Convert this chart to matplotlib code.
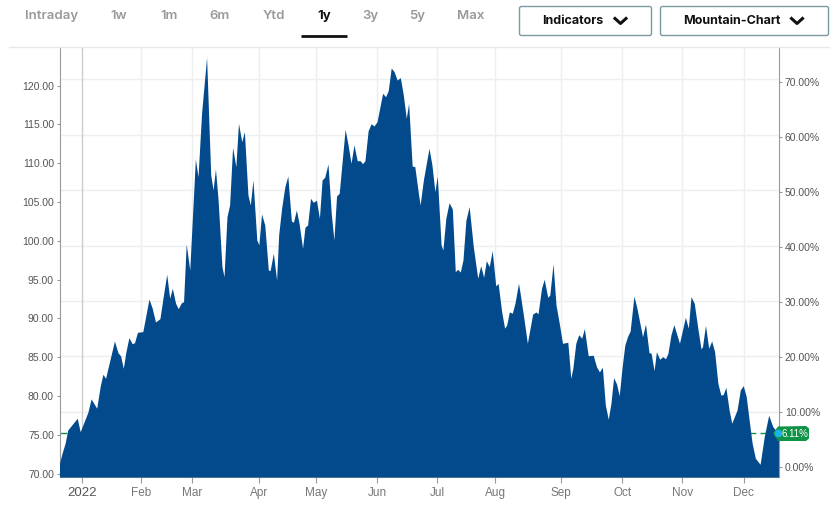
import matplotlib
matplotlib.use("Agg")
import matplotlib.pyplot as plt
from matplotlib.patches import FancyBboxPatch, Polygon

plt.rcParams['font.family'] = ['Liberation Sans', 'DejaVu Sans']

# session number and closing price at the turning points
session = [0, 0.8, 1.9, 2.8, 6.0, 7.0, 9.6, 10.7, 12.6, 13.8, 14.7, 15.6, 18.6, 19.8, 20.7, 21.6,
           22.5, 23.5, 24.6, 25.4, 26.4, 28.2, 30.3, 31.4, 32.5, 34.0, 35.2, 36.3, 37.3, 38.2, 39.3, 40.2,
           41.3, 42.0, 42.9, 44.1, 46.0, 46.9, 48.1, 49.8, 51.2, 52.0, 52.8, 53.7, 55.0, 55.7, 56.7, 57.6,
           58.6, 59.7, 60.6, 61.7, 62.6, 63.8, 64.6, 65.5, 66.8, 67.5, 68.4, 69.5, 70.7, 71.3, 72.4, 73.5,
           74.2, 75.2, 76.3, 77.3, 78.5, 79.2, 80.2, 81.1, 82.3, 83.1, 84.0, 85.0, 85.9, 87.0, 88.0, 88.9,
           89.8, 90.9, 92.0, 92.9, 93.8, 94.7, 96.7, 97.7, 98.7, 99.7, 100.8, 101.8, 102.6, 103.4, 104.5, 105.5,
           106.5, 107.5, 109.4, 110.4, 111.3, 112.3, 113.3, 114.3, 115.4, 116.4, 117.4, 118.2, 119.4, 120.3, 121.5, 122.1,
           123.2, 125.1, 126.1, 127.1, 127.9, 129.2, 129.8, 130.8, 131.9, 133.0, 134.0, 134.8, 135.7, 136.6, 137.6, 138.7,
           140.1, 141.6, 142.6, 143.6, 144.5, 145.5, 146.5, 147.7, 148.5, 149.7, 150.7, 151.4, 152.3, 153.3, 154.2, 155.4,
           155.9, 157.3, 158.4, 160.2, 161.4, 162.0, 163.2, 164.1, 165.3, 166.0, 167.1, 168.1, 169.3, 170.3, 172.1, 173.1,
           173.8, 174.8, 175.8, 176.8, 177.7, 179.0, 180.7, 181.8, 182.8, 183.8, 184.8, 185.8, 186.7, 187.6, 188.6, 189.5,
           190.5, 191.4, 192.3, 193.2, 194.5, 195.5, 197.4, 198.4, 199.6, 200.3, 201.3, 202.1, 203.2, 204.2, 205.2, 206.0,
           207.0, 208.0, 209.9, 211.9, 212.9, 213.8, 214.9, 216.2, 217.2, 217.7, 218.7, 219.8, 220.8, 221.8, 222.9, 223.9,
           224.7, 225.6, 226.7, 227.6, 229.4, 230.5, 231.5, 232.5, 233.7, 234.5, 235.6, 237.2, 238.6, 240.1, 241.5, 243.3,
           243.7]
price = [71.34, 72.54, 73.92, 75.63, 77.14, 75.41, 77.91, 79.63, 78.43, 81.30, 82.81, 82.29, 87.10, 85.59, 85.17, 83.58,
         85.72, 87.53, 86.75, 86.88, 88.22, 88.30, 92.51, 91.31, 89.55, 89.97, 93.03, 95.70, 92.60, 93.89, 91.96, 91.26,
         92.04, 92.16, 99.60, 96.25, 110.55, 108.27, 116.44, 123.66, 108.49, 106.56, 109.27, 105.27, 96.68, 95.39, 103.12, 104.63,
         112.06, 109.56, 115.15, 112.78, 114.07, 105.91, 104.63, 107.85, 100.12, 99.47, 103.47, 102.05, 96.25, 96.16, 98.40, 94.96,
         100.76, 104.20, 106.98, 108.36, 102.56, 102.40, 103.98, 102.27, 99.05, 101.75, 102.05, 105.49, 104.97, 105.23, 102.91, 107.85,
         108.20, 109.91, 103.56, 100.12, 105.79, 106.13, 114.38, 112.36, 110.00, 112.36, 110.33, 110.33, 109.95, 110.33, 114.20, 115.10,
         114.81, 115.36, 119.02, 118.58, 119.36, 122.28, 121.80, 120.73, 121.03, 118.80, 115.80, 117.73, 109.65, 109.56, 106.13, 104.63,
         107.85, 111.93, 109.78, 106.34, 108.36, 99.47, 98.83, 102.91, 104.92, 104.11, 96.03, 96.34, 95.99, 97.54, 102.69, 104.41,
         99.25, 95.18, 96.80, 95.31, 97.45, 96.68, 98.74, 94.19, 94.53, 90.88, 88.74, 89.16, 90.84, 90.67, 91.96, 94.53,
         93.38, 89.81, 86.80, 90.58, 90.84, 90.58, 93.89, 95.05, 92.73, 93.03, 97.02, 91.74, 89.16, 86.80, 86.93, 82.29,
         83.58, 86.80, 87.91, 87.45, 88.69, 85.21, 85.26, 83.79, 83.11, 83.71, 78.85, 77.01, 79.07, 82.37, 81.56, 80.05,
         83.79, 86.58, 87.65, 88.39, 92.90, 91.31, 87.65, 89.29, 85.59, 85.52, 83.27, 85.72, 84.74, 85.08, 84.82, 85.52,
         87.87, 89.20, 86.80, 90.15, 88.74, 92.81, 91.96, 88.52, 86.07, 86.37, 89.12, 86.16, 87.10, 85.72, 81.65, 80.14,
         80.18, 81.13, 78.21, 76.49, 78.21, 80.79, 81.34, 79.92, 76.28, 73.92, 71.98, 71.21, 74.77, 77.53, 76.06, 75.21,
         75.21]

month_pos = [7.6, 27.6, 44.9, 67.6, 86.9, 107.6, 127.9, 147.6, 169.9, 190.6, 210.9, 231.6]
month_labels = ['2022', 'Feb', 'Mar', 'Apr', 'May', 'Jun', 'Jul', 'Aug', 'Sep', 'Oct', 'Nov', 'Dec']
price_ticks = [70, 75, 80, 85, 90, 95, 100, 105, 110, 115, 120]
pct_ticks = [0, 10, 20, 30, 40, 50, 60, 70]
last_pct = 6.11
tabs = ['Intraday', '1w', '1m', '6m', 'Ytd', '1y', '3y', '5y', 'Max']
tab_x = [51.7, 119, 169, 220, 274, 324, 370, 417, 471]

fig = plt.figure(figsize=(8.4, 5.08), dpi=100)
ax = fig.add_axes([59.5 / 840, 31 / 508, 719.8 / 840, 430.5 / 508])
ax2 = ax.twinx()

ax.set_xlim(0, 243.7)
ax.set_ylim(69.57, 125.05)
ax2.set_ylim(-1.82, 76.45)

# grid comes from the percent axis and the month ticks
for p in pct_ticks:
    ax.axhline(70.86 + p * 0.7134, color='#eeeeee', lw=1, zorder=1)
for i, m in enumerate(month_pos):
    ax.axvline(m, color='#cccccc' if i == 0 else '#eeeeee', lw=1, zorder=1)

ax.axhline(75.21, color='#0e9347', lw=1, ls=(0, (5, 3)), zorder=2)
ax.fill_between(session, price, 69.57, color='#034a8c', lw=0, zorder=3)

ax.set_xticks(month_pos)
ax.set_xticklabels(month_labels, fontsize=8.5, color='#777777')
ax.get_xticklabels()[0].set_fontsize(9.5)
ax.get_xticklabels()[0].set_color('#555555')
ax.set_yticks(price_ticks)
ax.set_yticklabels(['%.2f' % v for v in price_ticks], fontsize=7.5, color='#555555')
ax2.set_yticks(pct_ticks)
ax2.set_yticklabels(['%.2f%%' % v for v in pct_ticks], fontsize=7.5, color='#555555')
ax.tick_params(axis='x', length=4, width=0.8, color='#999999', pad=3)
ax.tick_params(axis='y', length=2, width=0.8, color='#999999', pad=2)
ax2.tick_params(axis='y', length=2, width=0.8, color='#999999', pad=2)

for s in ('top', 'right'):
    ax.spines[s].set_visible(False)
for s in ('top', 'left', 'bottom'):
    ax2.spines[s].set_visible(False)
for spine in (ax.spines['left'], ax.spines['bottom'], ax2.spines['right']):
    spine.set_color('#999999')
    spine.set_linewidth(0.8)

# page furniture above the chart, in pixels
ui = fig.add_axes([0, 0, 1, 1], zorder=5)
ui.set_xlim(0, 840)
ui.set_ylim(508, 0)
ui.axis('off')
ui.patch.set_alpha(0)

ui.plot([9, 829], [46.5, 46.5], color='#e8e8e8', lw=1)
for name, x in zip(tabs, tab_x):
    active = name == '1y'
    ui.text(x, 16, name, ha='center', va='center', fontsize=9.5, family=['Inter', 'DejaVu Sans'],
            weight='bold' if active else 'semibold', color='#111111' if active else '#999999')
ui.plot([301, 347], [35.5, 35.5], color='#111111', lw=2, solid_capstyle='butt')

for left, right, label, cx, chev in [(519.5, 651.5, 'Indicators', 573, 620.5),
                                     (660.5, 828.5, 'Mountain-Chart', 731.5, 797)]:
    ui.add_patch(FancyBboxPatch((left + 2, 8.5), right - left - 4, 25, boxstyle='round,pad=2',
                                fc='white', ec='#7b9ba3', lw=1))
    ui.text(cx, 21, label, ha='center', va='center', fontsize=9, weight='bold',
            family=['Inter', 'DejaVu Sans'], color='#111111')
    ui.plot([chev - 5.5, chev, chev + 5.5], [18.5, 23.5, 18.5], color='#111111', lw=2.2)

# last value tag
ui.add_patch(Polygon([(773, 433.3), (778, 426.5), (806, 426), (809, 428.5), (809, 438.5),
                      (806, 441), (778, 441)], closed=True, fc='#0e9347', ec='none'))
ui.plot([778], [433.3], 'o', ms=5.5, color='#1fb3ee', mec='none')
ui.text(782, 433.8, '%.2f%%' % last_pct, ha='left', va='center', fontsize=7, color='white')

fig.savefig('out.png', dpi=100)
